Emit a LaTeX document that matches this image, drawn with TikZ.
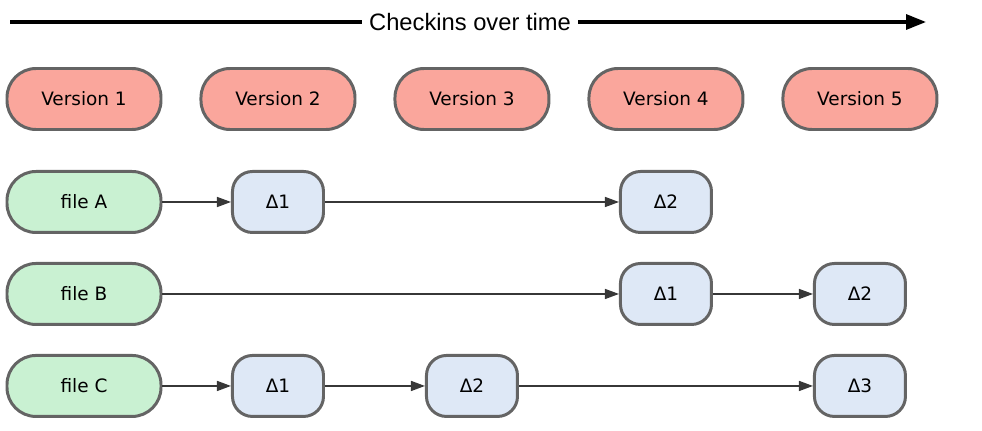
\documentclass[tikz,border=0pt]{standalone}
\usepackage{fontspec}
\setmainfont{DejaVu Sans}
\newfontfamily\headfont{Liberation Sans}
\usetikzlibrary{arrows.meta, positioning}
\definecolor{versionred}{RGB}{250, 166, 156}
\definecolor{filegreen}{RGB}{201, 241, 210}
\definecolor{deltablue}{RGB}{222, 232, 246}
\definecolor{edge}{RGB}{100, 100, 100}

\tikzset{
  box/.style={draw=edge, line width=1.7pt, minimum height=1.22cm, inner sep=0pt, font=\fontsize{10.5}{12}\selectfont},
  version/.style={box, fill=versionred, minimum width=3.08cm, rounded corners=0.58cm},
  file/.style={box, fill=filegreen, minimum width=3.08cm, rounded corners=0.58cm},
  delta/.style={box, fill=deltablue, minimum width=1.82cm, rounded corners=0.4cm},
  link/.style={draw={rgb,255:red,55;green,55;blue,55}, line width=0.8pt, -{Triangle[length=0.28cm, width=0.2cm]}}
}

\begin{document}
\begin{tikzpicture}
    \useasboundingbox (0,0) rectangle (19.64,-8.6);

    % time axis
    \coordinate (tstart) at (0.2,-0.44);
    \coordinate (tend) at (18.52,-0.44);
    \node[fill=white, inner xsep=4pt, font=\headfont\fontsize{13.5}{15}\selectfont] (time) at (9.4,-0.44) {Checkins over time};
    \draw[line width=1.8pt] (tstart) -- (time);
    \draw[line width=1.8pt, -{Triangle[length=0.4cm, width=0.3cm]}] (time) -- (tend);

    % versions
    \node[version] (v1) at (1.68,-1.98) {Version 1};
    \node[version, right=0.74cm of v1] (v2) {Version 2};
    \node[version, right=0.74cm of v2] (v3) {Version 3};
    \node[version, right=0.74cm of v3] (v4) {Version 4};
    \node[version, right=0.74cm of v4] (v5) {Version 5};

    % files
    \node[file, below=0.78cm of v1] (fa) {file A};
    \node[file, below=0.56cm of fa] (fb) {file B};
    \node[file, below=0.56cm of fb] (fc) {file C};

    % deltas
    \node[delta] (a1) at (v2 |- fa) {Δ1};
    \node[delta] (a2) at (v4 |- fa) {Δ2};
    \node[delta] (b1) at (v4 |- fb) {Δ1};
    \node[delta] (b2) at (v5 |- fb) {Δ2};
    \node[delta] (c1) at (v2 |- fc) {Δ1};
    \node[delta] (c2) at (v3 |- fc) {Δ2};
    \node[delta] (c3) at (v5 |- fc) {Δ3};

    \draw[link] (fa) -- (a1);
    \draw[link] (a1) -- (a2);
    \draw[link] (fb) -- (b1);
    \draw[link] (b1) -- (b2);
    \draw[link] (fc) -- (c1);
    \draw[link] (c1) -- (c2);
    \draw[link] (c2) -- (c3);
\end{tikzpicture}
\end{document}
